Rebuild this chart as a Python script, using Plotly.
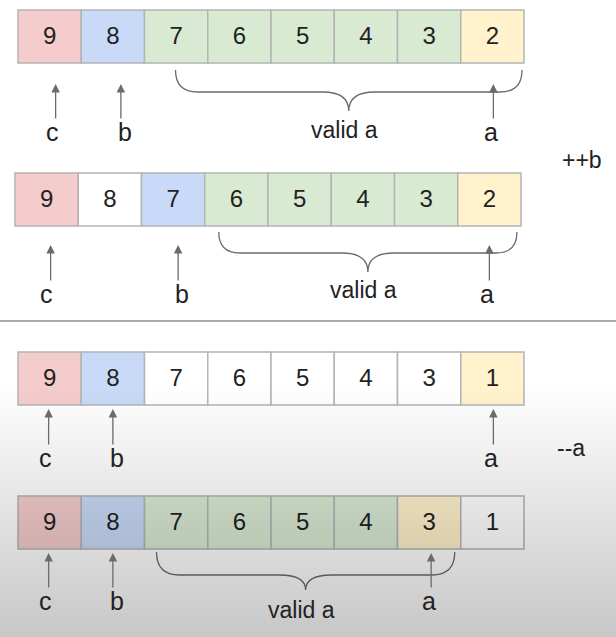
import plotly.graph_objects as go

# cell values, left to right, for the four steps
row1_values = [9, 8, 7, 6, 5, 4, 3, 2]
row2_values = [9, 8, 7, 6, 5, 4, 3, 2]
row3_values = [9, 8, 7, 6, 5, 4, 3, 1]
row4_values = [9, 8, 7, 6, 5, 4, 3, 1]

# role of each cell (decides its colour)
row1_roles = ["c", "b", "valid", "valid", "valid", "valid", "valid", "a"]
row2_roles = ["c", "none", "b", "valid", "valid", "valid", "valid", "a"]
row3_roles = ["c", "b", "none", "none", "none", "none", "none", "a"]
row4_roles = ["c", "b", "valid", "valid", "valid", "valid", "a", "none"]

# pointer -> cell index
row1_pointers = {"c": 0, "b": 1, "a": 7}
row2_pointers = {"c": 0, "b": 2, "a": 7}
row3_pointers = {"c": 0, "b": 1, "a": 7}
row4_pointers = {"c": 0, "b": 1, "a": 6}

# "valid a" brace: first and last cell under it
row1_brace = (2, 7)
row2_brace = (3, 7)
row3_brace = None
row4_brace = (2, 6)

brace_label = "valid a"
step_labels = ["++b", "--a"]

# ---- styling -------------------------------------------------------------
W, H = 616, 637
CELL_W, CELL_H = 63.25, 53
FONT = "Liberation Sans, Arial, sans-serif"
TXT = "#222222"
GREY = "#6b6b6b"
role_colors = {"c": "#f4cccc", "b": "#c9daf8", "valid": "#d9ead3",
               "a": "#fff2cc", "none": "#ffffff"}

rows = [
    dict(values=row1_values, roles=row1_roles, ptr=row1_pointers, brace=row1_brace,
         left=18, top=10, tip=21, shaft=36, ptr_dx={"c": 6, "b": 8, "a": 1},
         lab_dx={"c": -3, "b": 4, "a": -2},
         b_in=(31, 2), b_y=(7, 29, 48), b_lab=67),
    dict(values=row2_values, roles=row2_roles, ptr=row2_pointers, brace=row2_brace,
         left=15, top=173, tip=19, shaft=37, ptr_dx={"c": 4, "b": 5, "a": 0},
         lab_dx={"c": -4, "b": 4, "a": -2},
         b_in=(14, 4), b_y=(6, 27, 46), b_lab=64),
    dict(values=row3_values, roles=row3_roles, ptr=row3_pointers, brace=row3_brace,
         left=18, top=352, tip=4, shaft=37, ptr_dx={"c": -1, "b": 0, "a": 1},
         lab_dx={"c": -3, "b": 4, "a": -2},
         b_in=(0, 0), b_y=(0, 0, 0), b_lab=0),
    dict(values=row4_values, roles=row4_roles, ptr=row4_pointers, brace=row4_brace,
         left=18, top=496, tip=4, shaft=36, ptr_dx={"c": -1, "b": 0, "a": 2},
         lab_dx={"c": -3, "b": 4, "a": -2},
         b_in=(12, 6), b_y=(3, 26, 41), b_lab=61),
]
step_pos = [(582, 160), (571, 448)]

fig = go.Figure()
shapes = []
annotations = []

for r in rows:
    left, top = r["left"], r["top"]
    bottom = top + CELL_H
    xs = [left + (i + 0.5) * CELL_W for i in range(len(r["values"]))]

    for i, role in enumerate(r["roles"]):
        shapes.append(dict(type="rect", xref="x", yref="y",
                           x0=left + i * CELL_W, x1=left + (i + 1) * CELL_W,
                           y0=top, y1=bottom, fillcolor=role_colors[role],
                           line=dict(color="#b4b4b4", width=1.5), layer="below"))

    fig.add_trace(go.Scatter(x=xs, y=[top + CELL_H / 2 + 1] * len(xs),
                             mode="text", text=[str(v) for v in r["values"]],
                             textfont=dict(family=FONT, size=24, color=TXT),
                             hoverinfo="skip", showlegend=False))

    # pointer arrows
    for name, idx in r["ptr"].items():
        x = xs[idx] + r["ptr_dx"][name]
        y_tip = bottom + r["tip"]
        y_tail = y_tip + r["shaft"]
        annotations.append(dict(x=x, y=y_tip, ax=x, ay=y_tail, xref="x", yref="y",
                                axref="x", ayref="y", text="", showarrow=True,
                                arrowhead=2, arrowsize=1.3, arrowwidth=1.3,
                                arrowcolor=GREY, standoff=0, startstandoff=0))
        annotations.append(dict(x=x + r["lab_dx"][name], y=y_tail + 12, xref="x",
                                yref="y", text=name, showarrow=False,
                                font=dict(family=FONT, size=25, color=TXT)))

    # brace under the valid range
    if r["brace"]:
        s, e = r["brace"]
        x0 = left + s * CELL_W + r["b_in"][0]
        x1 = left + (e + 1) * CELL_W - r["b_in"][1]
        yt, yh, yp = (bottom + d for d in r["b_y"])
        xc = (x0 + x1) / 2
        rad = yh - yt
        cusp = 26
        path = (f"M{x0},{yt} Q{x0},{yh} {x0 + rad},{yh} L{xc - cusp},{yh} "
                f"Q{xc},{yh} {xc},{yp} Q{xc},{yh} {xc + cusp},{yh} "
                f"L{x1 - rad},{yh} Q{x1},{yh} {x1},{yt}")
        shapes.append(dict(type="path", xref="x", yref="y", path=path,
                           line=dict(color=GREY, width=1.3)))
        annotations.append(dict(x=xc - 4, y=bottom + r["b_lab"], xref="x", yref="y",
                                text=brace_label, showarrow=False,
                                font=dict(family=FONT, size=23, color=TXT)))

for label, (x, y) in zip(step_labels, step_pos):
    annotations.append(dict(x=x, y=y, xref="x", yref="y", text=label,
                            showarrow=False, font=dict(family=FONT, size=23, color=TXT)))

# separator between the two halves
shapes.append(dict(type="line", xref="x", yref="y", x0=0, x1=W, y0=321, y1=321,
                   line=dict(color="#aaaaaa", width=2)))

# grey shading toward the bottom of the frame
for y in range(385, H, 2):
    a = 0.22 * (y - 385) / (H - 385)
    shapes.append(dict(type="rect", xref="x", yref="y", x0=0, x1=W, y0=y, y1=y + 2,
                       fillcolor=f"rgba(0,0,0,{a:.4f})", line=dict(width=0),
                       layer="above"))

fig.update_layout(
    width=W, height=H, margin=dict(l=0, r=0, t=0, b=0),
    paper_bgcolor="white", plot_bgcolor="white",
    xaxis=dict(range=[0, W], visible=False, fixedrange=True),
    yaxis=dict(range=[H, 0], visible=False, fixedrange=True),
    shapes=shapes, annotations=annotations, showlegend=False,
)

# the page's default body margin would shift the figure by 8px
fig.write_html("out.html", config={"displayModeBar": False},
               post_script="document.body.style.margin='0';"
                           "document.body.style.overflow='hidden';")
